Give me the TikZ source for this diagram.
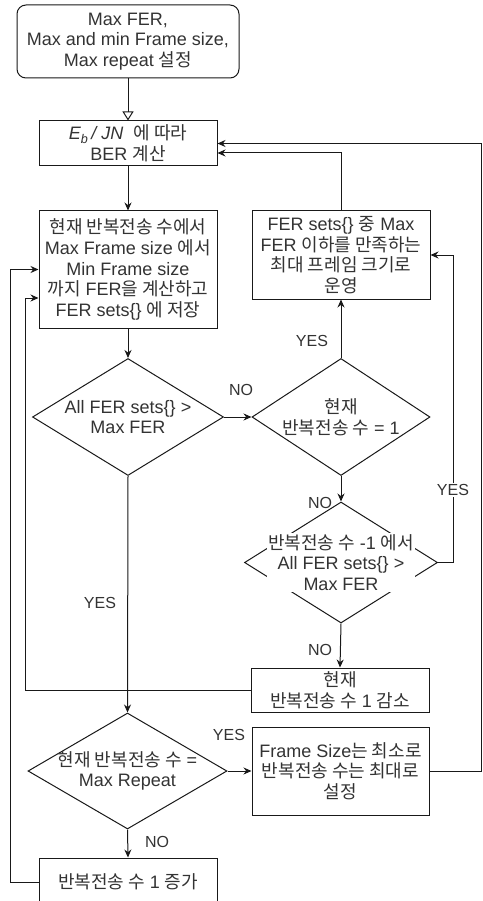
\documentclass[tikz,border=0pt]{standalone}
\usepackage{fontspec}
\setmainfont{Liberation Sans}
\newfontfamily\kr{Noto Sans CJK KR}[Scale=1.0]
\newcommand\K[1]{{\kr #1}}
\usetikzlibrary{shapes.geometric,arrows.meta,calc}
\begin{document}
\begin{tikzpicture}[x=1pt,y=-1pt,
  every node/.style={font=\fontsize{18}{20.7}\selectfont, text=black!80},
  box/.style={draw=black!90, line width=1pt, inner sep=0pt, align=center, fill=white},
  dia/.style={draw=black!90, diamond, line width=1pt, inner sep=0pt},
  txt/.style={align=center, inner sep=0pt},
  lbl/.style={font=\fontsize{16}{18}\selectfont, inner sep=1pt},
  arr/.style={draw=black!90, line width=1pt, -{Stealth[length=8pt,width=7pt]}},
  oarr/.style={draw=black!90, line width=1pt, -{Triangle[open,length=9pt,width=11pt]}}]
\useasboundingbox (0,0) rectangle (482,901);
\clip (0,0) rectangle (482,901);
\fill[white] (0,0) rectangle (482,901);

% nodes
\node[box, rounded corners=9pt, minimum width=222pt, minimum height=73pt] (start) at (128,41.5)
  {Max FER,\\Max and min Frame size,\\Max repeat \K{설정}};
\node[box, minimum width=178pt, minimum height=45pt] (ber) at (128,143.5)
  {\textit{E}\textsubscript{\textit{b}}\textit{\,/ JN}\ \ \K{에 따라}\\BER \K{계산}};
\node[box, minimum width=178pt, minimum height=117pt] (calc) at (128,269.5)
  {\K{현재 반복전송 수에서}\\Max Frame size \K{에서}\\Min Frame size\\\K{까지} FER\K{을 계산하고}\\FER sets\{\} \K{에 저장}};
\node[box, minimum width=178pt, minimum height=88pt] (fer) at (341,255)
  {FER sets\{\} \K{중} Max\\FER \K{이하를 만족하는}\\\K{최대 프레임 크기로}\\\K{운영}};

\node[dia, minimum width=191pt, minimum height=117pt] (d1) at (128,417) {};
\node[txt] (d1t) at (128,417) {All FER sets\{\} >\\Max FER};
\node[dia, minimum width=178pt, minimum height=117pt] (d2) at (341,417) {};
\node[txt] (d2t) at (341,417) {\K{현재}\\\K{반복전송 수} = 1};
\node[dia, minimum width=193pt, minimum height=121pt] (d3) at (341,562.5) {};
\node[txt, fill=white, inner sep=1pt] (d3t) at (341,562.5) {\K{반복전송 수} -1 \K{에서}\\All FER sets\{\} >\\Max FER};

\node[box, minimum width=178pt, minimum height=44pt] (dec) at (340,690)
  {\K{현재}\\\K{반복전송 수} 1 \K{감소}};
\node[dia, minimum width=199pt, minimum height=116pt] (d4) at (127.5,771) {};
\node[txt] (d4t) at (127.5,771) {\K{현재 반복전송 수} =\\Max Repeat};
\node[box, minimum width=177pt, minimum height=88pt] (fs) at (340.5,771)
  {Frame Size\K{는 최소로}\\\K{반복전송 수는 최대로}\\\K{설정}};
\node[box, minimum width=178pt, minimum height=48pt] (inc) at (128,882)
  {\raisebox{2pt}{\K{반복전송 수} 1 \K{증가}}};

% helper coordinates
\coordinate (l1) at (10,0);
\coordinate (l2) at (25,0);
\coordinate (r1) at (481,0);
\coordinate (r2) at (453,0);
\coordinate (c2) at ($(calc.west)+(0,28.5)$);
\coordinate (b2) at ($(ber.east)+(0,9.5)$);

% connectors
\draw[oarr] (start.south) -- (ber.north);
\draw[arr] (ber.south) -- (calc.north);
\draw[arr] (calc.south) -- (d1.north);
\draw[arr] (d1.east) -- (d2.west);
\draw[arr] (d2.north) -- (fer.south);
\draw[arr] (fer.north) |- (b2);
\draw[arr] (d2.south) -- (d3.north);
\draw[arr] (d3.south) -- (dec.north);
\draw[arr] (d3.east) -- (d3.east -| r2) -- (r2 |- fer.east) -- (fer.east);
\draw[arr] (dec.west) -- (dec.west -| l2) -- (l2 |- c2) -- (c2);
\draw[arr] (d1.south) -- (d4.north);
\draw[arr] (d4.east) -- (fs.west);
\draw[arr] (fs.east) -- (fs.east -| r1) -- (r1 |- ber.east) -- (ber.east);
\draw[arr] (d4.south) -- (inc.north);
\draw[arr] (inc.west) -- (inc.west -| l1) -- (l1 |- calc.west) -- (calc.west);

% labels
\node[lbl] (n1) at (241,390) {NO};
\node[lbl] (y1) at (312,341) {YES};
\node[lbl] (n2) at (320,503) {NO};
\node[lbl, fill=white] (y2) at (453,490) {YES};
\node[lbl] (n3) at (320,650) {NO};
\node[lbl] (y3) at (100,603) {YES};
\node[lbl] (y4) at (229,735) {YES};
\node[lbl] (n4) at (157,842) {NO};
\end{tikzpicture}
\end{document}
